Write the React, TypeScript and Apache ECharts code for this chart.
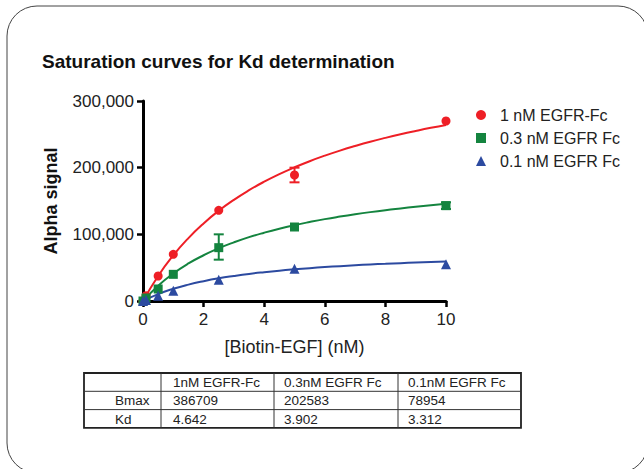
import React, { useEffect, useRef } from "react";
import * as echarts from "echarts";

const FONT = '"Liberation Sans", Arial, sans-serif';

const doses = [0, 0.1, 0.5, 1, 2.5, 5, 10];
const red1nM = [0, 8000, 37500, 70000, 136000, 189000, 270000];
const green03nM = [0, 4500, 18000, 40000, 80000, 111000, 143000];
const blue01nM = [0, 1500, 8000, 15500, 32000, 48500, 55000];

const errRed = [[5, 178000, 200000]];
const errGreen = [[2.5, 62000, 100000], [10, 138000, 148000]];

const curveX = [0, 0.5, 1, 1.5, 2, 2.5, 3, 3.5, 4, 4.5, 5, 5.5, 6, 6.5, 7, 7.5, 8, 8.5, 9, 9.5, 10];
const curveRed = [0, 37600, 68500, 94400, 116400, 135400, 151800, 166200, 179000, 190400, 200500, 209700, 218000, 225600, 232500, 238900, 244700, 250100, 255100, 259800, 264100];
const curveGreen = [0, 23000, 41300, 56300, 68600, 79100, 88000, 95800, 102500, 108500, 113800, 118500, 122800, 126600, 130100, 133300, 136200, 138800, 141300, 143600, 145700];
const curveBlue = [0, 10400, 18300, 24600, 29700, 34000, 37500, 40600, 43200, 45500, 47500, 49300, 50900, 52300, 53600, 54800, 55800, 56800, 57700, 58500, 59300];

const seriesNames = ["1 nM EGFR-Fc", "0.3 nM EGFR Fc", "0.1 nM EGFR Fc"];
const colors = ["#ee1f26", "#14843f", "#2c4aa0"];

const tableRowLabels = ["", "Bmax", "Kd"];
const tableHeader = ["1nM EGFR-Fc", "0.3nM EGFR Fc", "0.1nM EGFR Fc"];
const tableBmax = ["386709", "202583", "78954"];
const tableKd = ["4.642", "3.902", "3.312"];

const zip = (xs: number[], ys: number[]) => xs.map((x, i) => [x, ys[i]]);

export default function App() {
  const ref = useRef<HTMLDivElement>(null);
  useEffect(() => {
    document.body.style.margin = "0";
    const chart = echarts.init(ref.current!, null, { renderer: "svg" });

    const errSeries = (data: number[][], color: string) => ({
      type: "custom",
      data,
      z: 3,
      renderItem: (params: any, api: any) => {
        const x = api.value(0);
        const lo = api.coord([x, api.value(1)]);
        const hi = api.coord([x, api.value(2)]);
        const w = 5;
        const style = { stroke: color, lineWidth: 2 };
        return {
          type: "group",
          children: [
            { type: "line", shape: { x1: lo[0], y1: lo[1], x2: hi[0], y2: hi[1] }, style },
            { type: "line", shape: { x1: lo[0] - w, y1: lo[1], x2: lo[0] + w, y2: lo[1] }, style },
            { type: "line", shape: { x1: hi[0] - w, y1: hi[1], x2: hi[0] + w, y2: hi[1] }, style },
          ],
        };
      },
    });

    const tx = 84, ty = 373, rowH = 18.3;
    const colX = [84, 161, 274, 398, 521];
    const tableRows = [tableHeader, tableBmax, tableKd];
    const tableGraphics: any[] = [];
    tableGraphics.push({
      type: "rect",
      shape: { x: tx, y: ty, width: colX[4] - tx, height: rowH * 3 },
      style: { fill: "none", stroke: "#222", lineWidth: 1.8 },
    });
    for (let r = 1; r < 3; r++) {
      tableGraphics.push({
        type: "line",
        shape: { x1: tx, y1: ty + rowH * r, x2: colX[4], y2: ty + rowH * r },
        style: { stroke: "#333", lineWidth: 1 },
      });
    }
    for (let c = 1; c < 4; c++) {
      tableGraphics.push({
        type: "line",
        shape: { x1: colX[c], y1: ty, x2: colX[c], y2: ty + rowH * 3 },
        style: { stroke: "#333", lineWidth: 1 },
      });
    }
    tableRows.forEach((row, r) => {
      const cy = ty + rowH * r + rowH / 2 + 0.5;
      if (tableRowLabels[r]) {
        tableGraphics.push({
          type: "text",
          x: 115,
          y: cy,
          style: { text: tableRowLabels[r], font: `13.5px ${FONT}`, fill: "#222", verticalAlign: "middle", align: "left" },
        });
      }
      row.forEach((t, c) => {
        tableGraphics.push({
          type: "text",
          x: colX[c + 1] + (c === 0 ? 12 : 10),
          y: cy,
          style: { text: t, font: `13.5px ${FONT}`, fill: "#222", verticalAlign: "middle", align: "left" },
        });
      });
    });

    chart.setOption({
      animation: false,
      backgroundColor: "#fff",
      textStyle: { fontFamily: FONT },
      grid: { left: 143, right: 198, top: 101, bottom: 168, containLabel: false },
      legend: {
        orient: "vertical",
        left: 471,
        top: 102,
        itemWidth: 10,
        itemHeight: 10,
        itemGap: 7,
        data: [
          { name: seriesNames[0], icon: "circle" },
          { name: seriesNames[1], icon: "rect" },
          { name: seriesNames[2], icon: "triangle" },
        ],
        textStyle: { fontSize: 16, color: "#222", fontFamily: FONT, padding: [0, 0, 0, 9] },
      },
      xAxis: {
        type: "value",
        min: 0,
        max: 10,
        interval: 2,
        name: "[Biotin-EGF] (nM)",
        nameLocation: "middle",
        nameGap: 37,
        nameTextStyle: { fontSize: 18, color: "#222", fontFamily: FONT },
        axisLine: { lineStyle: { color: "#000", width: 3 } },
        axisTick: { show: true, length: 6, lineStyle: { color: "#000", width: 2.5 } },
        axisLabel: { fontSize: 17, color: "#222", margin: 10, fontFamily: FONT },
        splitLine: { show: false },
      },
      yAxis: {
        type: "value",
        min: 0,
        max: 300000,
        interval: 100000,
        name: "Alpha signal",
        nameLocation: "middle",
        nameGap: 83,
        nameTextStyle: { fontSize: 18, fontWeight: "bold", color: "#111", fontFamily: FONT },
        axisLine: { show: true, lineStyle: { color: "#000", width: 3 } },
        axisTick: { show: true, length: 6, lineStyle: { color: "#000", width: 2.5 } },
        axisLabel: {
          fontSize: 17,
          color: "#222",
          margin: 9,
          fontFamily: FONT,
          formatter: (v: number) => v.toLocaleString("en-US"),
        },
        splitLine: { show: false },
      },
      graphic: [
        {
          type: "rect",
          shape: { x: 7, y: 6, width: 641, height: 467, r: 30 },
          style: { fill: "none", stroke: "#444", lineWidth: 1 },
          silent: true,
        },
        {
          type: "text",
          x: 42,
          y: 61,
          style: {
            text: "Saturation curves for Kd determination",
            font: `bold 19px ${FONT}`,
            fill: "#111",
            verticalAlign: "middle",
          },
        },
        ...tableGraphics,
      ],
      series: [
        {
          type: "line",
          data: zip(curveX, curveRed),
          smooth: true,
          showSymbol: false,
          lineStyle: { color: colors[0], width: 2 },
          z: 2,
        },
        {
          type: "line",
          data: zip(curveX, curveGreen),
          smooth: true,
          showSymbol: false,
          lineStyle: { color: colors[1], width: 2 },
          z: 2,
        },
        {
          type: "line",
          data: zip(curveX, curveBlue),
          smooth: true,
          showSymbol: false,
          lineStyle: { color: colors[2], width: 2 },
          z: 2,
        },
        errSeries(errRed, colors[0]),
        errSeries(errGreen, colors[1]),
        {
          name: seriesNames[0],
          type: "scatter",
          data: zip(doses, red1nM),
          symbol: "circle",
          symbolSize: 9,
          itemStyle: { color: colors[0], opacity: 1 },
          z: 4,
        },
        {
          name: seriesNames[1],
          type: "scatter",
          data: zip(doses, green03nM),
          symbol: "rect",
          symbolSize: 9,
          itemStyle: { color: colors[1], opacity: 1 },
          z: 4,
        },
        {
          name: seriesNames[2],
          type: "scatter",
          data: zip(doses, blue01nM),
          symbol: "triangle",
          symbolSize: 10,
          itemStyle: { color: colors[2], opacity: 1 },
          z: 4,
        },
      ],
    });
    return () => chart.dispose();
  }, []);
  return <div ref={ref} style={{ width: 644, height: 469 }} />;
}
